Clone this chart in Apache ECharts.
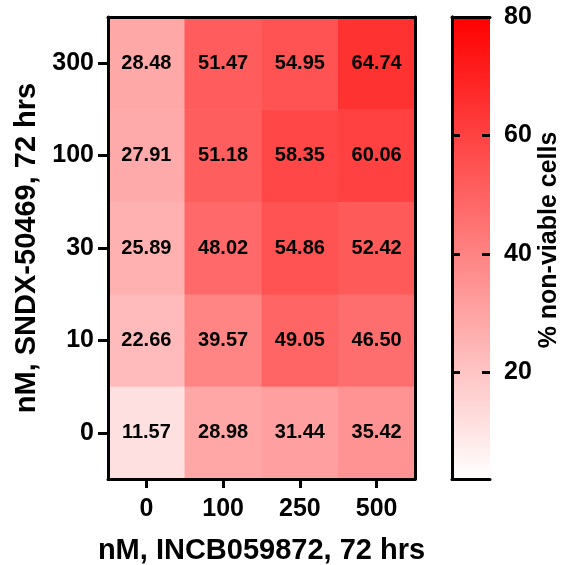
<!DOCTYPE html>
<html><head><meta charset="utf-8">
<script src="https://cdn.jsdelivr.net/npm/echarts@6/dist/echarts.min.js"></script>
<style>html,body{margin:0;padding:0;background:#fff}#c{width:566px;height:565px}</style>
</head><body><div id="c"></div>
<script>
const xCategories = ['0', '100', '250', '500'];
const yCategories = ['0', '10', '30', '100', '300'];
const row0 = [11.57, 28.98, 31.44, 35.42];
const row10 = [22.66, 39.57, 49.05, 46.50];
const row30 = [25.89, 48.02, 54.86, 52.42];
const row100 = [27.91, 51.18, 58.35, 60.06];
const row300 = [28.48, 51.47, 54.95, 64.74];
const colorMin = 2, colorMax = 80;
const colorbarTicks = [20, 40, 60, 80];

const rows = [row0, row10, row30, row100, row300];
const data = [];
rows.forEach((r, yi) => r.forEach((v, xi) => data.push([xi, yi, v])));

const F = '"Liberation Sans", Arial, sans-serif';
const lbl = { fontFamily: F, fontWeight: 'bold', color: '#000', fontSize: 25 };
const line = { show: true, lineStyle: { color: '#000', width: 3 } };
const off = { show: false };

const chart = echarts.init(document.getElementById('c'));
chart.setOption({
  animation: false,
  backgroundColor: '#fff',
  grid: [
    { left: 108, top: 17, width: 307, height: 462, containLabel: false, outerBoundsMode: 'none' },
    { left: 452, top: 17, width: 38, height: 462, containLabel: false, outerBoundsMode: 'none' },
    { left: 490, top: 17, width: 10, height: 462, containLabel: false, outerBoundsMode: 'none' }
  ],
  graphic: [{
    type: 'rect', left: 452, top: 17, z: -10, silent: true,
    shape: { width: 38, height: 462 },
    style: { fill: new echarts.graphic.LinearGradient(0, 0, 0, 1, [
      { offset: 0, color: '#ff0000' }, { offset: 1, color: '#ffffff' }]) }
  }],
  xAxis: [
    { type: 'category', gridIndex: 0, data: xCategories, position: 'bottom', z: 10,
      axisLine: line, axisTick: { show: true, alignWithLabel: true, length: 9, lineStyle: { width: 3, color: '#000' } },
      axisLabel: Object.assign({ margin: 18 }, lbl), splitLine: off,
      name: 'nM, INCB059872, 72 hrs', nameLocation: 'middle', nameGap: 57,
      nameTextStyle: { fontFamily: F, fontWeight: 'bold', color: '#000', fontSize: 29 } },
    { type: 'category', gridIndex: 0, data: xCategories, position: 'top', z: 10,
      axisLine: line, axisTick: off, axisLabel: off, splitLine: off },
    { type: 'value', gridIndex: 1, min: 0, max: 1, position: 'bottom', z: 10,
      axisLine: line, axisTick: off, axisLabel: off, splitLine: off },
    { type: 'value', gridIndex: 1, min: 0, max: 1, position: 'top', z: 10,
      axisLine: line, axisTick: off, axisLabel: off, splitLine: off },
    { type: 'value', gridIndex: 2, min: 0, max: 1, show: false }
  ],
  yAxis: [
    { type: 'category', gridIndex: 0, data: yCategories, position: 'left', z: 10,
      axisLine: line, axisTick: { show: true, alignWithLabel: true, length: 10, lineStyle: { width: 3, color: '#000' } },
      axisLabel: Object.assign({ margin: 14 }, lbl), splitLine: off,
      name: 'nM, SNDX-50469, 72 hrs', nameLocation: 'middle', nameGap: 64, nameRotate: 90,
      nameTextStyle: { fontFamily: F, fontWeight: 'bold', color: '#000', fontSize: 29 } },
    { type: 'category', gridIndex: 0, data: yCategories, position: 'right', z: 10,
      axisLine: line, axisTick: off, axisLabel: off, splitLine: off },
    { type: 'value', gridIndex: 1, min: colorMin, max: colorMax, position: 'right', z: 10,
      axisLine: line, axisTick: off, axisLabel: off, splitLine: off,
      name: '% non-viable cells', nameLocation: 'middle', nameGap: 47, nameRotate: 90,
      nameTextStyle: { fontFamily: F, fontWeight: 'bold', color: '#000', fontSize: 25, padding: [0, 0, 0, 16] } },
    { type: 'value', gridIndex: 1, min: colorMin, max: colorMax, position: 'left', z: 10,
      axisLine: line,
      axisTick: { show: true, inside: true, length: 8, customValues: colorbarTicks.slice(), lineStyle: { width: 3, color: '#000' } },
      axisLabel: off, splitLine: off },
    { type: 'value', gridIndex: 2, min: colorMin, max: colorMax, position: 'left', z: 10,
      axisLine: off,
      axisTick: { show: true, inside: false, length: 8, customValues: colorbarTicks.slice(), lineStyle: { width: 3, color: '#000' } },
      axisLabel: Object.assign({ inside: true, margin: 14, customValues: colorbarTicks.slice() }, lbl),
      splitLine: off }
  ],
  visualMap: {
    type: 'continuous', min: colorMin, max: colorMax, show: false, seriesIndex: 0,
    inRange: { color: ['#ffffff', '#ff0000'] }
  },
  series: [{
    type: 'heatmap', xAxisIndex: 0, yAxisIndex: 0, data: data,
    label: { show: true, fontFamily: F, fontWeight: 'bold', fontSize: 20, color: '#000',
      formatter: p => p.value[2].toFixed(2) },
    itemStyle: { borderWidth: 0 },
    emphasis: { disabled: true }
  }]
});
</script></body></html>
